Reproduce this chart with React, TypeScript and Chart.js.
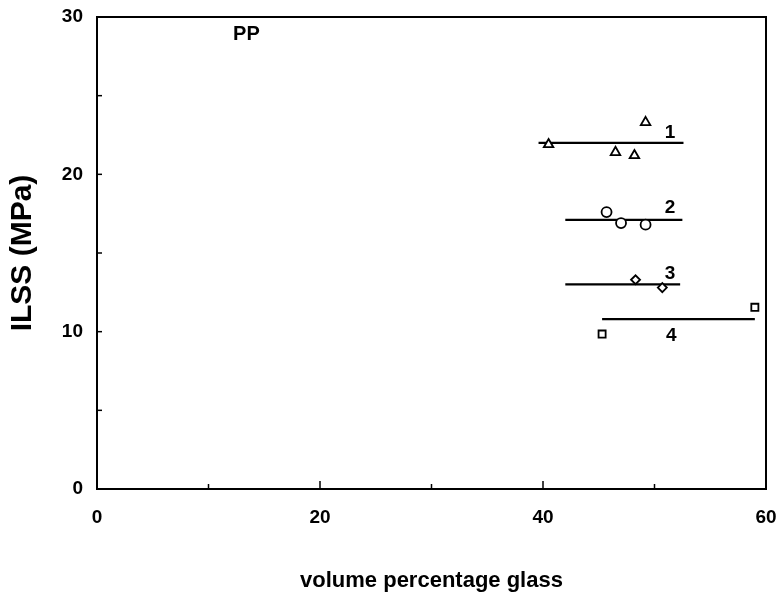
import { useEffect, useRef } from "react";
import { Chart, registerables } from "chart.js";

Chart.register(...registerables);

const FONT = "'Liberation Sans', Arial, Helvetica, sans-serif";

// Axis definitions
const X_MIN = 0;
const X_MAX = 60;
const X_STEP = 10;
const X_LABELED = [0, 20, 40, 60];
const Y_MIN = 0;
const Y_MAX = 30;
const Y_STEP = 5;
const Y_LABELED = [0, 10, 20, 30];

const X_TITLE = "volume percentage glass";
const Y_TITLE = "ILSS (MPa)";

// Series 1 (triangles)
const s1X = [40.5, 46.5, 48.2, 49.2];
const s1Y = [21.9, 21.4, 21.2, 23.3];
const fit1X = [39.6, 52.6];
const fit1Y = [22.0, 22.0];

// Series 2 (circles)
const s2X = [45.7, 47.0, 49.2];
const s2Y = [17.6, 16.9, 16.8];
const fit2X = [42.0, 52.5];
const fit2Y = [17.1, 17.1];

// Series 3 (small diamonds)
const s3X = [48.3, 50.7];
const s3Y = [13.3, 12.8];
const fit3X = [42.0, 52.3];
const fit3Y = [13.0, 13.0];

// Series 4 (squares)
const s4X = [45.3, 59.0];
const s4Y = [9.85, 11.55];
const fit4X = [45.3, 59.0];
const fit4Y = [10.8, 10.8];

// Annotation labels
const labelTexts = ["1", "2", "3", "4", "PP"];
const labelX = [51.4, 51.4, 51.4, 51.5, 13.4];
const labelY = [22.65, 17.9, 13.7, 9.75, 28.9];

const toPts = (xs: number[], ys: number[]) => xs.map((x, i) => ({ x, y: ys[i] }));

const framePlugin = {
  id: "frame",
  afterDatasetsDraw(chart: any) {
    const { ctx, chartArea, scales } = chart;
    const xs = scales.x;
    const ys = scales.y;
    ctx.save();
    ctx.strokeStyle = "#000";
    ctx.lineWidth = 2;
    ctx.strokeRect(chartArea.left, chartArea.top, chartArea.right - chartArea.left, chartArea.bottom - chartArea.top);
    ctx.lineWidth = 1.5;
    // inward ticks on x axis
    xs.ticks.forEach((t: any) => {
      const px = xs.getPixelForValue(t.value);
      const len = X_LABELED.includes(t.value) ? 8 : 5;
      ctx.beginPath();
      ctx.moveTo(px, chartArea.bottom);
      ctx.lineTo(px, chartArea.bottom - len);
      ctx.stroke();
    });
    ys.ticks.forEach((t: any) => {
      const py = ys.getPixelForValue(t.value);
      ctx.beginPath();
      ctx.moveTo(chartArea.left, py);
      ctx.lineTo(chartArea.left + 5, py);
      ctx.stroke();
    });
    // annotation labels
    ctx.fillStyle = "#000";
    ctx.textAlign = "center";
    ctx.textBaseline = "middle";
    labelTexts.forEach((txt, i) => {
      ctx.font = `bold ${txt === "PP" ? 20 : 19}px ${FONT}`;
      ctx.fillText(txt, xs.getPixelForValue(labelX[i]), ys.getPixelForValue(labelY[i]));
    });
    // axis titles
    ctx.font = `bold 22px ${FONT}`;
    ctx.textBaseline = "alphabetic";
    ctx.fillText(X_TITLE, (chartArea.left + chartArea.right) / 2, 587);
    ctx.save();
    ctx.translate(31, (chartArea.top + chartArea.bottom) / 2);
    ctx.rotate(-Math.PI / 2);
    ctx.font = `bold 30px ${FONT}`;
    ctx.fillText(Y_TITLE, 0, 0);
    ctx.restore();
    ctx.restore();
  },
};

export default function App() {
  const ref = useRef<HTMLCanvasElement | null>(null);
  useEffect(() => {
    if (!ref.current) return;
    const lineDs = (xs: number[], ys: number[]) => ({
      type: "line" as const,
      data: toPts(xs, ys),
      borderColor: "#000",
      borderWidth: 2.2,
      pointRadius: 0,
      showLine: true,
      fill: false,
      order: 2,
    });
    const markDs = (xs: number[], ys: number[], style: string, r: number) => ({
      type: "scatter" as const,
      data: toPts(xs, ys),
      pointStyle: style,
      pointRadius: r,
      pointBackgroundColor: "#fff",
      pointBorderColor: "#000",
      pointBorderWidth: 1.8,
      showLine: false,
      order: 1,
    });
    const chart = new Chart(ref.current, {
      type: "scatter",
      data: {
        datasets: [
          lineDs(fit1X, fit1Y),
          lineDs(fit2X, fit2Y),
          lineDs(fit3X, fit3Y),
          lineDs(fit4X, fit4Y),
          markDs(s1X, s1Y, "triangle", 5.5),
          markDs(s2X, s2Y, "circle", 5),
          markDs(s3X, s3Y, "rectRot", 4.5),
          markDs(s4X, s4Y, "rect", 5),
        ] as any,
      },
      options: {
        animation: false,
        responsive: false,
        maintainAspectRatio: false,
        layout: { padding: { left: 0, right: 14, top: 17, bottom: 0 } },
        plugins: { legend: { display: false }, tooltip: { enabled: false }, title: { display: false } },
        scales: {
          x: {
            type: "linear",
            min: X_MIN,
            max: X_MAX,
            grid: { display: false },
            border: { display: false },
            ticks: {
              stepSize: X_STEP,
              autoSkip: false,
              maxRotation: 0,
              padding: 9,
              color: "#000",
              font: { family: FONT, size: 19, weight: "bold" },
              callback: (v: any) => (X_LABELED.includes(Number(v)) ? String(v) : ""),
            },
            afterFit: (s: any) => {
              s.height = 107;
              s.paddingLeft = 0;
              s.paddingRight = 0;
            },
          },
          y: {
            type: "linear",
            min: Y_MIN,
            max: Y_MAX,
            grid: { display: false },
            border: { display: false },
            ticks: {
              stepSize: Y_STEP,
              autoSkip: false,
              padding: 6,
              color: "#000",
              font: { family: FONT, size: 19, weight: "bold" },
              callback: (v: any) => (Y_LABELED.includes(Number(v)) ? String(v) : ""),
            },
            afterFit: (s: any) => {
              s.width = 97;
              s.paddingTop = 0;
              s.paddingBottom = 0;
            },
          },
        },
      },
      plugins: [framePlugin],
    });
    return () => chart.destroy();
  }, []);
  return (
    <div style={{ position: "absolute", left: 0, top: 0, width: 780, height: 596, background: "#fff" }}>
      <canvas ref={ref} width={780} height={596} style={{ display: "block" }} />
    </div>
  );
}
